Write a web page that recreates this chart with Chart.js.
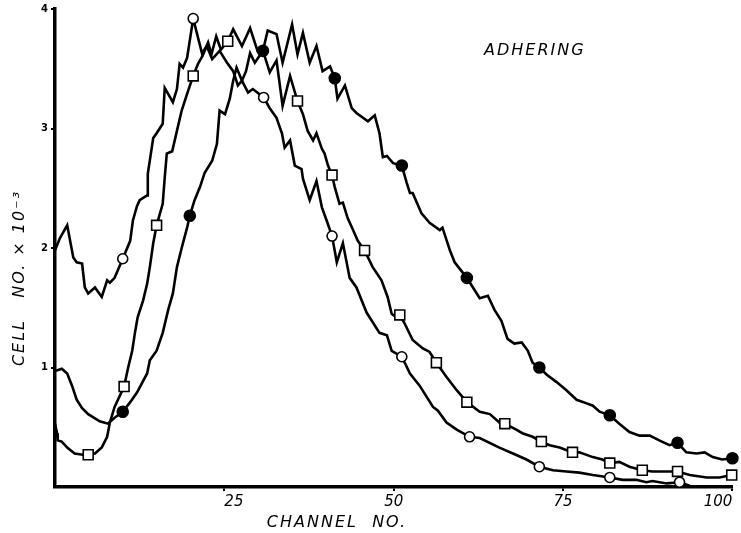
<!DOCTYPE html>
<html>
<head>
<meta charset="utf-8">
<script src="https://cdn.jsdelivr.net/npm/chart.js@4"></script>
<style>
  body { margin: 0; background: #fff; }
</style>
</head>
<body>
<canvas id="chart" width="741" height="533"></canvas>
<script>
// Tick labels
const xTicks = [25, 50, 75, 100];
const yTicks = [1, 2, 3, 4];

// Curves: [channel, cell no. x 10^-3]
const openCircleCurve = [
    [0, 1.98], [0.7, 2.08], [1.8, 2.19], [2.7, 1.92], [3.2, 1.88], [4.0, 1.87], [4.4, 1.67], [4.9, 1.62],
    [5.9, 1.67], [6.9, 1.59], [7.7, 1.73], [8.1, 1.71], [8.8, 1.75], [10.0, 1.91], [11.1, 2.06], [11.5, 2.23],
    [12.1, 2.35], [12.5, 2.40], [13.6, 2.44], [13.7, 2.62], [14.5, 2.92], [15.0, 2.96], [15.9, 3.04], [16.2, 3.34],
    [17.4, 3.22], [18.0, 3.33], [18.4, 3.54], [18.9, 3.51], [19.5, 3.59], [20.4, 3.92], [21.7, 3.63], [22.4, 3.69],
    [23.2, 3.58], [24.3, 3.65], [25.4, 3.55], [26.3, 3.48], [27.0, 3.36], [27.6, 3.40], [28.5, 3.30], [29.2, 3.33],
    [30.8, 3.26], [31.7, 3.17], [32.7, 3.09], [33.5, 2.96], [33.9, 2.84], [34.7, 2.90], [35.4, 2.69], [36.4, 2.66],
    [36.6, 2.58], [37.6, 2.40], [38.6, 2.56], [39.4, 2.34], [40.1, 2.23], [40.9, 2.10], [41.6, 1.88], [42.5, 2.04],
    [43.5, 1.75], [44.5, 1.67], [46.0, 1.46], [47.9, 1.29], [49.0, 1.27], [49.7, 1.14], [51.2, 1.09], [52.4, 0.95],
    [53.8, 0.85], [55.8, 0.67], [56.5, 0.64], [57.8, 0.54], [59.3, 0.48], [61.2, 0.42], [62.7, 0.41], [65.6, 0.33],
    [67.6, 0.28], [69.6, 0.23], [71.5, 0.17], [73.5, 0.14], [75.5, 0.13], [77.4, 0.12], [79.4, 0.10], [81.9, 0.08],
    [83.8, 0.06], [85.8, 0.06], [87.3, 0.04], [88.2, 0.05], [90.3, 0.03], [92.2, 0.04], [93.7, 0.01]
];

const squareCurve = [
    [0, 0.53], [0.3, 0.45], [0.4, 0.39], [1.0, 0.38], [1.8, 0.33], [2.9, 0.28], [4.1, 0.27], [4.9, 0.27],
    [5.9, 0.28], [6.9, 0.33], [7.7, 0.42], [8.1, 0.54], [8.8, 0.67], [10.2, 0.84], [10.8, 1.00], [11.4, 1.14],
    [11.8, 1.29], [12.2, 1.42], [13.0, 1.56], [13.6, 1.70], [14.0, 1.84], [14.5, 2.04], [15.0, 2.19], [15.9, 2.37],
    [16.2, 2.59], [16.5, 2.79], [17.3, 2.81], [18.0, 2.98], [18.7, 3.15], [19.5, 3.29], [20.4, 3.44], [21.1, 3.54],
    [21.8, 3.61], [22.6, 3.72], [23.1, 3.62], [23.8, 3.77], [24.5, 3.66], [25.5, 3.73], [26.3, 3.83], [27.6, 3.69],
    [28.8, 3.84], [29.9, 3.65], [30.7, 3.65], [31.7, 3.47], [32.7, 3.57], [33.6, 3.19], [34.7, 3.44], [35.8, 3.23],
    [36.6, 3.12], [37.3, 2.98], [38.1, 2.90], [38.6, 2.96], [39.4, 2.83], [39.8, 2.79], [40.3, 2.69], [40.9, 2.61],
    [41.3, 2.51], [42.0, 2.37], [42.5, 2.38], [43.2, 2.25], [44.0, 2.15], [44.7, 2.06], [45.7, 1.98], [46.9, 1.84],
    [48.2, 1.73], [49.1, 1.59], [49.7, 1.45], [50.4, 1.42], [50.9, 1.44], [51.6, 1.37], [52.8, 1.23], [54.3, 1.16],
    [55.3, 1.13], [56.3, 1.04], [57.8, 0.92], [59.3, 0.81], [60.8, 0.71], [62.7, 0.63], [64.2, 0.61], [65.6, 0.54],
    [66.4, 0.53], [68.1, 0.48], [69.0, 0.45], [70.5, 0.42], [71.8, 0.38], [73.0, 0.35], [74.5, 0.33], [76.4, 0.29],
    [77.4, 0.29], [79.4, 0.25], [80.8, 0.23], [81.9, 0.20], [83.3, 0.21], [84.8, 0.17], [86.7, 0.14], [88.2, 0.13],
    [90.3, 0.13], [91.9, 0.13], [93.7, 0.10], [96.2, 0.08], [98.1, 0.08], [99.9, 0.10]
];

const filledCurve = [
    [0, 0.97], [1.0, 0.99], [1.8, 0.95], [2.5, 0.85], [3.2, 0.73], [4.0, 0.66], [4.9, 0.61], [6.6, 0.55],
    [7.8, 0.53], [8.8, 0.58], [10.0, 0.63], [11.1, 0.71], [12.1, 0.79], [13.6, 0.95], [14.0, 1.06], [15.0, 1.14],
    [15.9, 1.29], [16.7, 1.48], [17.4, 1.62], [18.0, 1.84], [18.7, 2.00], [19.5, 2.17], [19.9, 2.27], [20.6, 2.40],
    [21.4, 2.51], [22.1, 2.63], [23.2, 2.73], [23.9, 2.87], [24.3, 3.15], [25.1, 3.12], [25.8, 3.25], [26.3, 3.40],
    [26.8, 3.51], [27.6, 3.40], [28.2, 3.48], [28.8, 3.63], [29.5, 3.55], [30.7, 3.65], [31.4, 3.82], [32.7, 3.79],
    [33.6, 3.55], [35.0, 3.87], [35.8, 3.62], [36.6, 3.80], [37.6, 3.55], [38.6, 3.69], [39.5, 3.48], [40.6, 3.52],
    [41.3, 3.42], [41.7, 3.25], [42.8, 3.36], [43.8, 3.17], [44.5, 3.13], [46.2, 3.06], [47.2, 3.11], [47.9, 2.96],
    [48.4, 2.76], [49.0, 2.77], [49.9, 2.71], [51.2, 2.69], [51.9, 2.55], [52.4, 2.46], [52.8, 2.46], [54.1, 2.29],
    [55.3, 2.21], [56.8, 2.15], [57.2, 2.17], [58.3, 1.98], [59.0, 1.88], [60.8, 1.75], [61.7, 1.67], [62.7, 1.58],
    [63.9, 1.60], [64.9, 1.48], [65.9, 1.39], [66.8, 1.24], [67.8, 1.20], [68.9, 1.21], [69.8, 1.14], [70.5, 1.04],
    [71.5, 1.00], [72.6, 0.94], [74.0, 0.88], [75.5, 0.81], [77.0, 0.73], [78.5, 0.70], [79.4, 0.68], [80.4, 0.63],
    [81.9, 0.60], [83.3, 0.53], [84.8, 0.46], [86.3, 0.43], [87.8, 0.43], [89.2, 0.39], [90.7, 0.35], [91.9, 0.37],
    [93.2, 0.29], [94.7, 0.28], [95.9, 0.29], [97.1, 0.25], [98.5, 0.23], [100, 0.24]
];

// Symbols drawn on the curves
const openCircleMarks = [[10.0, 1.91], [20.4, 3.92], [30.8, 3.26], [40.9, 2.10], [51.2, 1.09], [61.2, 0.42], [71.5, 0.17], [81.9, 0.08], [92.2, 0.04]];
const squareMarks = [[4.9, 0.27], [10.2, 0.84], [15.0, 2.19], [20.4, 3.44], [25.5, 3.73], [35.8, 3.23], [40.9, 2.61], [45.7, 1.98], [50.9, 1.44],
    [56.3, 1.04], [60.8, 0.71], [66.4, 0.53], [71.8, 0.38], [76.4, 0.29], [81.9, 0.20], [86.7, 0.14], [91.9, 0.13], [99.9, 0.10]];
const filledMarks = [[10.0, 0.63], [19.9, 2.27], [30.7, 3.65], [41.3, 3.42], [51.2, 2.69], [60.8, 1.75], [71.5, 1.00], [81.9, 0.60], [91.9, 0.37], [100, 0.24]];

function pts(arr) {
    return arr.map(p => ({ x: p[0], y: p[1] }));
}

function curve(arr) {
    return {
        data: pts(arr),
        showLine: true,
        borderColor: '#000',
        borderWidth: 2.6,
        pointRadius: 0,
        tension: 0,
        order: 2
    };
}

function marks(arr, style, radius, fill) {
    return {
        data: pts(arr),
        showLine: false,
        pointStyle: style,
        pointRadius: radius,
        pointBackgroundColor: fill,
        pointBorderColor: '#000',
        pointBorderWidth: 1.6,
        clip: false,
        order: 1
    };
}

// hand lettering on the figure
const lettering = {
    id: 'lettering',
    afterDraw(chart) {
        const ctx = chart.ctx;
        ctx.save();
        ctx.fillStyle = '#000';
        ctx.letterSpacing = '2px';
        ctx.font = 'italic 16px "DejaVu Sans"';
        ctx.textAlign = 'left';
        ctx.textBaseline = 'alphabetic';
        ctx.fillText('ADHERING', 484, 55);

        ctx.textAlign = 'center';
        ctx.fillText('CHANNEL  NO.', 337, 527);

        ctx.translate(24, 278);
        ctx.rotate(-Math.PI / 2);
        ctx.fillText('CELL   NO. × 10⁻³', 0, 0);
        ctx.restore();
    }
};

new Chart(document.getElementById('chart'), {
    type: 'scatter',
    data: {
        datasets: [
            marks(openCircleMarks, 'circle', 5, '#fff'),
            marks(squareMarks, 'rect', 7, '#fff'),
            marks(filledMarks, 'circle', 5.5, '#000'),
            curve(openCircleCurve),
            curve(squareCurve),
            curve(filledCurve)
        ]
    },
    options: {
        responsive: false,
        animation: false,
        layout: { padding: { top: 8, right: 8, left: 0, bottom: 0 } },
        plugins: {
            legend: { display: false },
            tooltip: { enabled: false }
        },
        scales: {
            x: {
                type: 'linear',
                min: 0,
                max: 100,
                afterBuildTicks(axis) { axis.ticks = xTicks.map(v => ({ value: v })); },
                afterFit(scale) { scale.height = 46; },
                grid: { drawOnChartArea: false, color: '#000', lineWidth: 2, tickLength: 4 },
                border: { color: '#000', width: 3.5 },
                ticks: {
                    color: '#000',
                    padding: 2,
                    maxRotation: 0,
                    autoSkip: false,
                    align: 'inner',
                    font: { family: 'DejaVu Sans', style: 'italic', size: 15 }
                }
            },
            y: {
                min: 0,
                max: 4,
                afterBuildTicks(axis) { axis.ticks = yTicks.map(v => ({ value: v })); },
                afterFit(scale) { scale.width = 55; },
                grid: { drawOnChartArea: false, color: '#000', lineWidth: 2, tickLength: 4 },
                border: { color: '#000', width: 3.5 },
                ticks: {
                    color: '#000',
                    padding: 3,
                    font: { family: 'DejaVu Sans', weight: 'bold', size: 10 }
                }
            }
        }
    },
    plugins: [lettering]
});
</script>
</body>
</html>
